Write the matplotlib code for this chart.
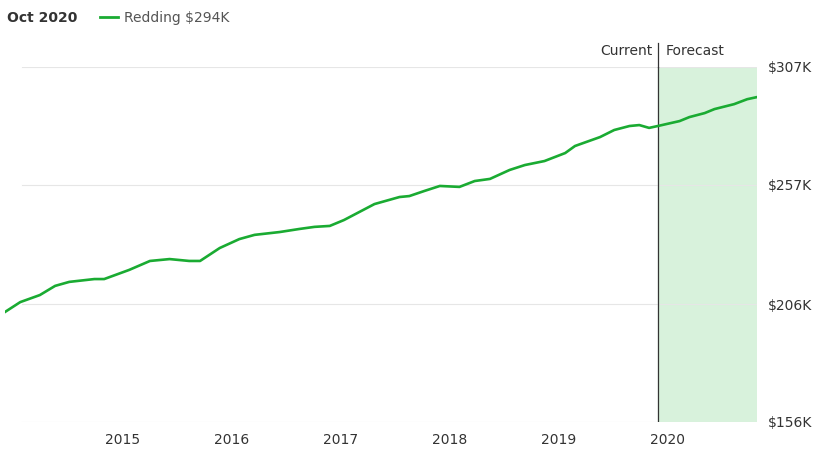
import matplotlib.pyplot as plt

# decimal year, home value in $K
years = [2013.92, 2014.06, 2014.24, 2014.38, 2014.51, 2014.74, 2014.83, 2015.06, 2015.25,
         2015.43, 2015.61, 2015.71, 2015.89, 2016.07, 2016.21, 2016.44, 2016.62, 2016.76,
         2016.90, 2017.03, 2017.31, 2017.54, 2017.63, 2017.77, 2017.91, 2018.09, 2018.23,
         2018.37, 2018.55, 2018.69, 2018.87, 2019.06, 2019.15, 2019.38, 2019.51, 2019.65,
         2019.74, 2019.83, 2019.91, 2020.11, 2020.20, 2020.34, 2020.43, 2020.61, 2020.73,
         2020.82]
values = [202.8, 207.0, 210.0, 213.9, 215.6, 216.8, 216.8, 220.7, 224.5,
          225.3, 224.5, 224.5, 230.0, 233.8, 235.6, 236.8, 238.1, 239.0,
          239.4, 241.9, 248.7, 251.7, 252.1, 254.3, 256.4, 256.0, 258.5,
          259.4, 263.2, 265.3, 267.0, 270.4, 273.4, 277.2, 280.2, 281.9,
          282.3, 281.1, 281.9, 284.0, 285.7, 287.4, 289.1, 291.2, 293.3,
          294.2]
y_ticks = [156, 206, 257, 307]
x_ticks = [2015, 2016, 2017, 2018, 2019, 2020]
x_labels = ['2015', '2016', '2017', '2018', '2019', '2020']
current = 2019.91

green = '#1aab32'
fig = plt.figure(figsize=(8.24, 4.63), dpi=100)
ax = fig.add_axes([5/824, 41/463, 752/824, 355/463])
ax.set_xlim(years[0], years[-1])
ax.set_ylim(156, 307)

ax.axvspan(current, years[-1], color='#d8f2dc', zorder=0)
for v in y_ticks:
    ax.axhline(v, xmin=17/752, color='#e6e6e6', lw=0.8, zorder=1)
ax.axvline(current, color='#333333', lw=0.9, zorder=2)
ax.plot(years, values, color=green, lw=1.9, zorder=3)

for s in ax.spines.values():
    s.set_visible(False)
ax.yaxis.tick_right()
ax.set_yticks(y_ticks)
ax.set_yticklabels(['$%dK' % v for v in y_ticks])
ax.set_xticks(x_ticks)
ax.set_xticklabels(x_labels)
ax.tick_params(length=0, labelsize=10, colors='#333333', pad=8)

fig.text(7/824, 1 - 18/463, 'Oct 2020', fontsize=10, fontweight='bold', color='#333333', va='center')
fig.lines.append(plt.Line2D([100/824, 118/824], [1 - 17/463] * 2, color=green, lw=2, transform=fig.transFigure))
fig.text(124/824, 1 - 18/463, 'Redding $294K', fontsize=10, color='#555555', va='center')
ax.text(current - 0.05, 311, 'Current', ha='right', va='bottom', fontsize=10, color='#333333')
ax.text(current + 0.07, 311, 'Forecast', ha='left', va='bottom', fontsize=10, color='#333333')
ax.plot([current, current], [307, 317], color='#333333', lw=0.9, clip_on=False)

fig.savefig('out.png')
